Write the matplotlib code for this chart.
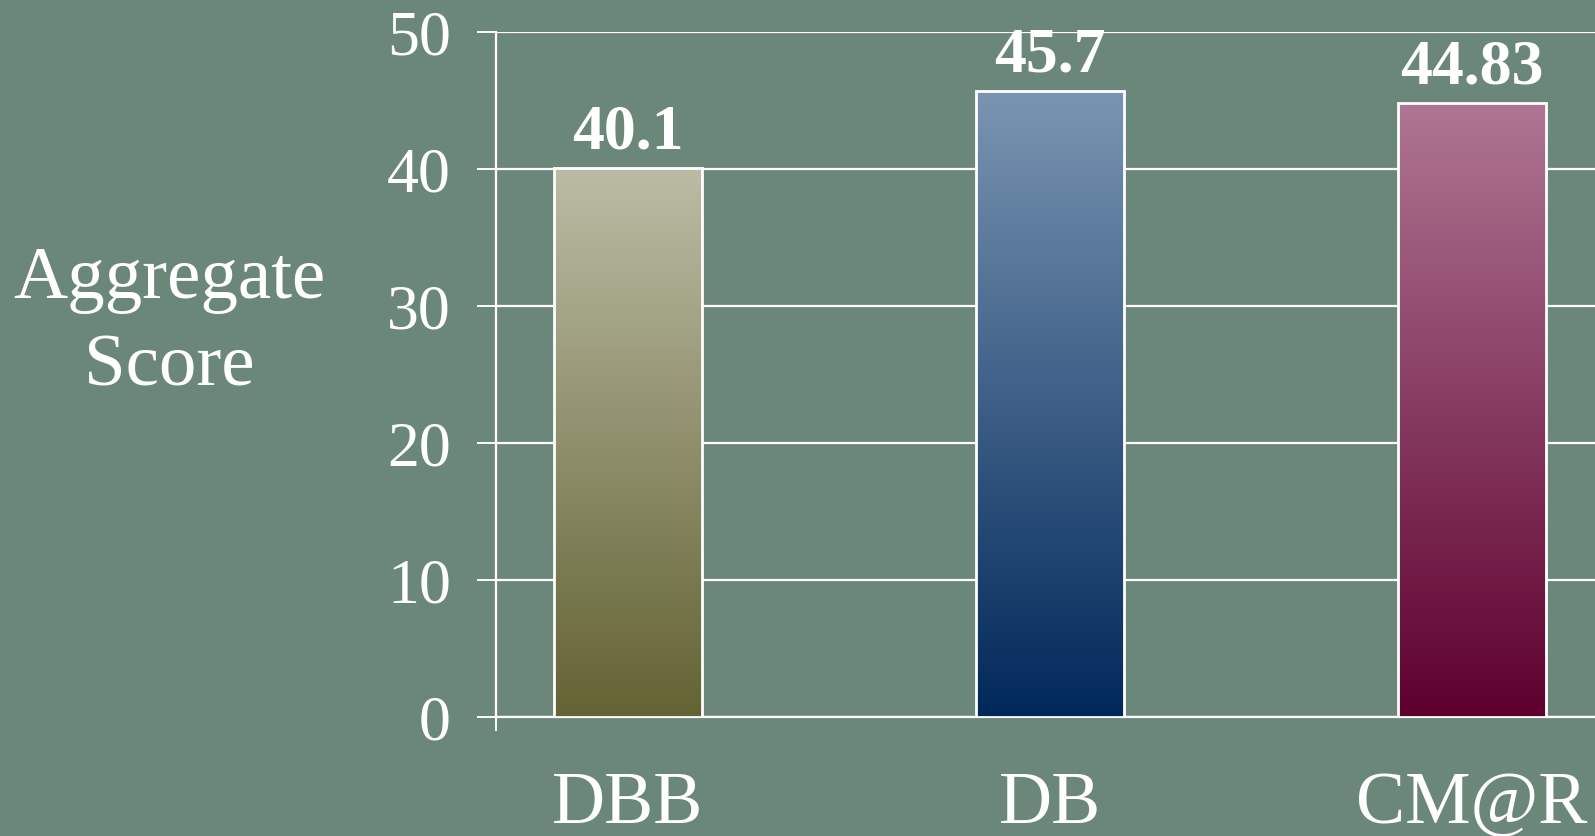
import numpy as np
import matplotlib
matplotlib.use("Agg")
import matplotlib.pyplot as plt
from matplotlib.colors import LinearSegmentedColormap

categories = ["DBB", "DB", "CM@R"]
scores = [40.1, 45.7, 44.83]
score_labels = ["40.1", "45.7", "44.83"]
yticks = [0, 10, 20, 30, 40, 50]

# gradient colours, top -> bottom
bar_colors = [("#bcbca6", "#636333"), ("#7a95b2", "#00285a"), ("#af7693", "#5e002e")]

BG = "#6b8779"
plt.rcParams["font.family"] = ["Liberation Serif", "DejaVu Serif"]

fig = plt.figure(figsize=(15.95, 8.36), dpi=100, facecolor=BG)
ax = fig.add_axes([0.311, 0.1423, 0.689, 0.8194])
ax.set_facecolor("none")

x = np.arange(len(categories))
bars = ax.bar(x, scores, width=0.351, facecolor="none", edgecolor="white",
              linewidth=2.0, zorder=4)

grad = np.linspace(0, 1, 256).reshape(-1, 1)
for b, (top, bottom) in zip(bars, bar_colors):
    cmap = LinearSegmentedColormap.from_list("g", [bottom, top])
    x0, y0 = b.get_x(), b.get_y()
    im = ax.imshow(grad, cmap=cmap, aspect="auto", origin="lower",
                   extent=[x0, x0 + b.get_width(), y0, y0 + b.get_height()], zorder=3)
    im.set_clip_path(b)

for b, lab in zip(bars, score_labels):
    ax.annotate(lab, (b.get_x() + b.get_width() / 2, b.get_height()),
                xytext=(0, 14), textcoords="offset points", ha="center",
                va="baseline", fontsize=46, fontweight="bold", color="white", zorder=5)

ax.set_xlim(-0.312, 2.292)
ax.set_ylim(0, 50)
ax.set_yticks(yticks)
ax.set_yticklabels([str(t) for t in yticks])
ax.set_xticks(x)
ax.set_xticklabels(categories)
ax.set_xticks([-0.312], minor=True)

ax.grid(axis="y", color="white", linewidth=1.6, zorder=1)
ax.set_axisbelow(True)
for side in ["top", "right"]:
    ax.spines[side].set_visible(False)
for side in ["left", "bottom"]:
    ax.spines[side].set_color("white")
    ax.spines[side].set_linewidth(1.6)
    ax.spines[side].set_zorder(2)

ax.tick_params(axis="y", direction="out", length=13.5, width=1.4, color="white",
               labelcolor="white", labelsize=46, pad=19)
ax.tick_params(axis="x", which="major", length=0, labelcolor="white", labelsize=53, pad=39)
ax.tick_params(axis="x", which="minor", direction="out", length=10, width=1.4, color="white")

fig.text(169 / 1595, 1 - 324 / 836, "Aggregate\nScore", ha="center", va="center",
         fontsize=54, color="white", linespacing=1.38)

fig.savefig("out.png", dpi=100, facecolor=BG)
